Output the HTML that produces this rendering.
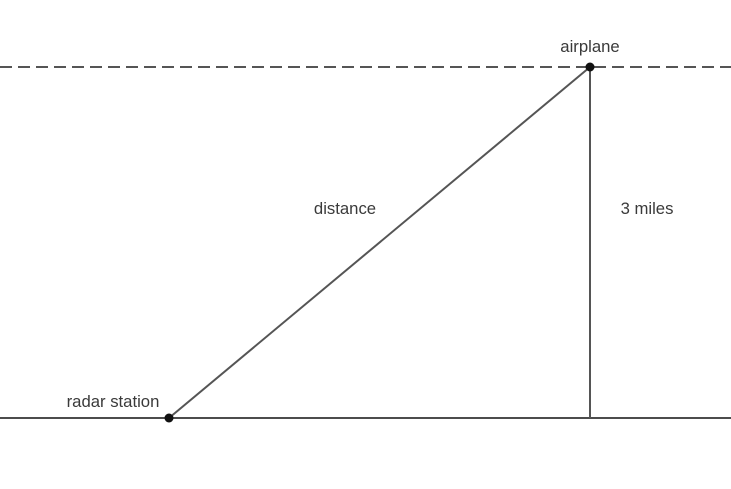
<!DOCTYPE html>
<html><head><style>html,body{margin:0;padding:0;background:#fff;}svg{display:block}</style></head>
<body>
<svg width="731" height="489" xmlns="http://www.w3.org/2000/svg" font-family="Liberation Sans, Arial, sans-serif" font-size="16.7" fill="#3a3a3a">
<line x1="0" y1="67" x2="731" y2="67" stroke="#555" stroke-width="2" stroke-dasharray="12,6"/>
<line x1="0" y1="418" x2="731" y2="418" stroke="#111" stroke-width="1.5"/>
<line x1="169" y1="418" x2="590" y2="67" stroke="#555" stroke-width="2"/>
<line x1="590" y1="67" x2="590" y2="418" stroke="#555" stroke-width="2"/>
<circle cx="590" cy="67" r="4.5" fill="#111"/>
<circle cx="169" cy="418" r="4.5" fill="#111"/>
<text x="590" y="52" text-anchor="middle">airplane</text>
<text x="345" y="214" text-anchor="middle">distance</text>
<text x="647" y="214" text-anchor="middle">3 miles</text>
<text x="113" y="407" text-anchor="middle">radar station</text>
</svg>
</body></html>
